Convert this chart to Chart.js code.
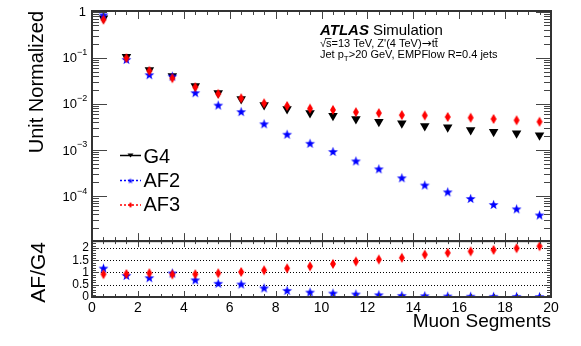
<!DOCTYPE html>
<html>
<head>
<meta charset="utf-8">
<script src="https://cdn.jsdelivr.net/npm/chart.js@4.4.0/dist/chart.umd.min.js"></script>
<style>
html, body { margin: 0; padding: 0; background: #fff; }
#wrap { width: 581px; height: 346px; }
</style>
</head>
<body>
<div id="wrap"><canvas id="chart" width="581" height="346"></canvas></div>
<script>
// bin centres (muon segments)
const binCenters = [0.5, 1.5, 2.5, 3.5, 4.5, 5.5, 6.5, 7.5, 8.5, 9.5, 10.5, 11.5, 12.5, 13.5, 14.5, 15.5, 16.5, 17.5, 18.5, 19.5];

// unit normalized distributions
const g4Values  = [0.72, 0.105, 0.0545, 0.0404, 0.0245, 0.0171, 0.0128, 0.0094, 0.0077, 0.0063, 0.0055, 0.0047, 0.0041, 0.0038, 0.0033, 0.0031, 0.0027, 0.0025, 0.0023, 0.0021];
const af2Values = [0.85, 0.092, 0.043, 0.040, 0.0175, 0.0094, 0.0068, 0.0037, 0.0022, 0.0014, 0.00093, 0.00058, 0.00039, 0.00025, 0.000174, 0.000124, 0.000089, 0.000066, 0.000053, 0.000039];
const af3Values = [0.67, 0.098, 0.052, 0.036, 0.023, 0.0165, 0.0132, 0.0103, 0.0090, 0.0079, 0.0074, 0.0066, 0.0063, 0.0057, 0.0056, 0.0052, 0.0050, 0.0047, 0.0044, 0.0041];

// ratio panel AF/G4
const af2Ratio = [1.18, 0.88, 0.79, 0.98, 0.70, 0.56, 0.53, 0.37, 0.27, 0.20, 0.16, 0.12, 0.09, 0.066, 0.052, 0.04, 0.033, 0.027, 0.023, 0.019];
const af3Ratio = [0.93, 0.94, 0.97, 0.92, 0.93, 0.97, 1.02, 1.09, 1.17, 1.25, 1.35, 1.45, 1.53, 1.60, 1.73, 1.80, 1.86, 1.92, 1.99, 2.07];

// ticks
const xTickLabels = [0, 2, 4, 6, 8, 10, 12, 14, 16, 18, 20];
const logTickExponents = [0, -1, -2, -3, -4];
const ratioTickLabels = ['0', '0.5', '1', '1.5', '2'];
const ratioGridLines = [0.5, 1, 1.5, 2];

const FONT = '"Liberation Sans", Arial, Helvetica, sans-serif';
const frameColor = '#444';

function makeStar(color, rOut, rIn) {
  const size = Math.ceil(rOut * 2) + 2;
  const c = document.createElement('canvas');
  c.width = size; c.height = size;
  const g = c.getContext('2d');
  g.fillStyle = color;
  g.beginPath();
  for (let i = 0; i < 10; i++) {
    const rr = i % 2 ? rIn : rOut;
    const a = -Math.PI / 2 + i * Math.PI / 5;
    const px = size / 2 + rr * Math.cos(a), py = size / 2 + rr * Math.sin(a) + 0.5;
    if (i === 0) g.moveTo(px, py); else g.lineTo(px, py);
  }
  g.closePath();
  g.fill();
  return c;
}

function makeDiamond(color, w, h) {
  const c = document.createElement('canvas');
  c.width = w + 2; c.height = h + 2;
  const g = c.getContext('2d');
  g.fillStyle = color;
  const cx = c.width / 2, cy = c.height / 2;
  g.beginPath();
  g.moveTo(cx, cy - h / 2); g.lineTo(cx + w / 2, cy); g.lineTo(cx, cy + h / 2); g.lineTo(cx - w / 2, cy);
  g.closePath();
  g.fill();
  return c;
}

const blueStar = makeStar('#0000ff', 5.2, 2.1);
const redDiamond = makeDiamond('#ff0000', 6, 10);
const smallStar = makeStar('#0000ff', 3, 1.2);
const smallDiamond = makeDiamond('#ff0000', 4, 6);

const pts = vals => binCenters.map((x, i) => ({ x: x, y: vals[i] }));

// frame, inward ticks, labels and legend in ROOT style
const rootStyle = {
  id: 'rootStyle',
  beforeDatasetsDraw(chart) {
    const { ctx, scales: { x, yRatio } } = chart;
    ctx.save();
    ctx.strokeStyle = '#000';
    ctx.lineWidth = 1;
    ctx.setLineDash([1, 2]);
    ratioGridLines.forEach(v => {
      const py = Math.round(yRatio.getPixelForValue(v)) + 0.5;
      ctx.beginPath(); ctx.moveTo(x.left, py); ctx.lineTo(x.right, py); ctx.stroke();
    });
    ctx.restore();
  },
  afterDatasetsDraw(chart) {
    const { ctx, scales: { x, y, yRatio: r } } = chart;
    ctx.save();
    ctx.strokeStyle = frameColor;
    ctx.lineWidth = 1;
    const hLine = (x0, x1, yy) => { ctx.beginPath(); ctx.moveTo(x0, yy); ctx.lineTo(x1, yy); ctx.stroke(); };
    const vLine = (xx, y0, y1) => { ctx.beginPath(); ctx.moveTo(xx, y0); ctx.lineTo(xx, y1); ctx.stroke(); };

    // x ticks on both panels
    for (let v = 0; v <= 20; v += 0.5) {
      const px = Math.round(x.getPixelForValue(v)) + 0.5;
      const major = v % 2 === 0;
      const lt = major ? 8 : 4;
      vLine(px, y.top, y.top + lt);
      vLine(px, y.bottom, y.bottom - lt);
      const lr = major ? 6 : 3;
      vLine(px, r.top, r.top + lr);
      vLine(px, r.bottom, r.bottom - lr);
    }
    // log y ticks
    for (let e = -5; e <= 0; e++) {
      for (let m = 1; m <= 9; m++) {
        const v = m * Math.pow(10, e);
        if (v < y.min || v > y.max) continue;
        const py = Math.round(y.getPixelForValue(v)) + 0.5;
        const lt = m === 1 ? 15 : 7;
        hLine(x.left, x.left + lt, py);
        hLine(x.right, x.right - lt, py);
      }
    }
    // ratio y ticks
    for (let i = 0; i <= 22; i++) {
      const v = i / 10;
      const py = Math.round(r.getPixelForValue(v)) + 0.5;
      const lt = i % 5 === 0 ? 7 : 4;
      hLine(x.left, x.left + lt, py);
      hLine(x.right, x.right - lt, py);
    }
    // frames
    ctx.strokeStyle = '#333';
    ctx.lineWidth = 2;
    ctx.strokeRect(x.left, y.top, x.right - x.left, y.bottom - y.top);
    ctx.strokeRect(x.left, r.top, x.right - x.left, r.bottom - r.top);

    // tick labels
    ctx.fillStyle = '#000';
    ctx.font = '14px ' + FONT;
    ctx.textAlign = 'center';
    ctx.textBaseline = 'top';
    xTickLabels.forEach(v => ctx.fillText(String(v), x.getPixelForValue(v), r.bottom + 4));

    ctx.font = '12px ' + FONT;
    ctx.textAlign = 'right';
    ctx.textBaseline = 'middle';
    ratioTickLabels.forEach(t => ctx.fillText(t, x.left - 3, r.getPixelForValue(parseFloat(t))));

    logTickExponents.forEach(e => {
      const py = y.getPixelForValue(Math.pow(10, e));
      ctx.textBaseline = 'middle';
      ctx.textAlign = 'right';
      if (e === 0) {
        ctx.font = '13px ' + FONT;
        ctx.fillText('1', x.left - 6, py + 1);
      } else {
        ctx.font = '13px ' + FONT;
        ctx.fillText('10', x.left - 15, py + 1);
        ctx.font = '9px ' + FONT;
        ctx.textAlign = 'left';
        ctx.fillText('\u2212' + (-e), x.left - 15, py - 5);
      }
    });

    // axis titles
    ctx.font = '20px ' + FONT;
    ctx.textAlign = 'right';
    ctx.textBaseline = 'middle';
    ctx.save();
    ctx.translate(37, 11); ctx.rotate(-Math.PI / 2);
    ctx.fillText('Unit Normalized', 0, 0);
    ctx.restore();
    ctx.save();
    ctx.translate(39, 242); ctx.rotate(-Math.PI / 2);
    ctx.font = '21px ' + FONT;
    ctx.fillText('AF/G4', 0, 0);
    ctx.restore();
    ctx.font = '19px ' + FONT;
    ctx.textBaseline = 'alphabetic';
    ctx.fillText('Muon Segments', x.right, 327);

    // ATLAS label
    ctx.textAlign = 'left';
    ctx.font = 'italic bold 15px ' + FONT;
    ctx.fillText('ATLAS', 320, 35);
    const wAtlas = ctx.measureText('ATLAS').width;
    ctx.font = '15px ' + FONT;
    ctx.fillText('Simulation', 320 + wAtlas + 4, 35);

    ctx.font = '11px ' + FONT;
    const part1 = '\u221As=13 TeV, Z\'(4 TeV)';
    ctx.fillText(part1, 320, 47);
    ctx.lineWidth = 0.8;
    ctx.strokeStyle = '#000';
    const wRoot = ctx.measureText('\u221A').width;
    const wS = ctx.measureText('s').width;
    hLine(320 + wRoot - 1, 320 + wRoot + wS, 38.5);
    let ax = 320 + ctx.measureText(part1).width;
    ctx.font = '12px "DejaVu Sans", sans-serif';
    ctx.fillText('\u2192', ax, 47);
    ax += ctx.measureText('\u2192').width;
    ctx.font = '11px ' + FONT;
    ctx.fillText('tt', ax, 47);
    const wT = ctx.measureText('t').width;
    hLine(ax + wT, ax + 2 * wT, 38.5);

    let tx = 320;
    ctx.fillText('Jet p', tx, 57.5);
    tx += ctx.measureText('Jet p').width;
    ctx.font = '8px ' + FONT;
    ctx.fillText('T', tx, 60.5);
    tx += ctx.measureText('T').width;
    ctx.font = '11px ' + FONT;
    ctx.fillText('>20 GeV, EMPFlow R=0.4 jets', tx, 57.5);

    // legend
    const legend = [
      { label: 'G4', color: '#000', dash: [], ly: 155.5, ty: 162.5, marker: 'tri' },
      { label: 'AF2', color: '#0000ff', dash: [2, 2], ly: 180.5, ty: 186.5, marker: smallStar },
      { label: 'AF3', color: '#ff0000', dash: [2, 2], ly: 205, ty: 211, marker: smallDiamond }
    ];
    legend.forEach(item => {
      ctx.strokeStyle = item.color;
      ctx.lineWidth = 1.5;
      ctx.setLineDash(item.dash);
      hLine(120, 141, item.ly);
      ctx.setLineDash([]);
      ctx.fillStyle = item.color;
      if (item.marker === 'tri') {
        ctx.beginPath();
        ctx.moveTo(127.5, item.ly - 2); ctx.lineTo(133.5, item.ly - 2); ctx.lineTo(130.5, item.ly + 2);
        ctx.closePath(); ctx.fill();
      } else {
        ctx.drawImage(item.marker, 130.5 - item.marker.width / 2, item.ly - item.marker.height / 2);
      }
      ctx.fillStyle = '#000';
      ctx.font = '20px ' + FONT;
      ctx.textAlign = 'left';
      ctx.textBaseline = 'alphabetic';
      ctx.fillText(item.label, 143.5, item.ty);
    });
    ctx.restore();
  }
};

new Chart(document.getElementById('chart').getContext('2d'), {
  type: 'scatter',
  data: {
    datasets: [
      { label: 'G4', data: pts(g4Values), yAxisID: 'y', order: 3,
        pointStyle: 'triangle', rotation: 180, pointRadius: 5.5, borderWidth: 0,
        backgroundColor: '#000', borderColor: '#000' },
      { label: 'AF2', data: pts(af2Values), yAxisID: 'y', order: 2,
        pointStyle: blueStar, pointRadius: 5, backgroundColor: '#0000ff', borderColor: '#0000ff' },
      { label: 'AF3', data: pts(af3Values), yAxisID: 'y', order: 1,
        pointStyle: redDiamond, pointRadius: 5, backgroundColor: '#ff0000', borderColor: '#ff0000' },
      { label: 'AF2/G4', data: pts(af2Ratio), yAxisID: 'yRatio', order: 2,
        pointStyle: blueStar, pointRadius: 5, backgroundColor: '#0000ff', borderColor: '#0000ff' },
      { label: 'AF3/G4', data: pts(af3Ratio), yAxisID: 'yRatio', order: 1,
        pointStyle: redDiamond, pointRadius: 5, backgroundColor: '#ff0000', borderColor: '#ff0000' }
    ]
  },
  options: {
    responsive: false,
    animation: false,
    devicePixelRatio: 1,
    layout: { padding: { left: 0, right: 30, top: 11, bottom: 0 } },
    plugins: { legend: { display: false }, tooltip: { enabled: false } },
    scales: {
      x: {
        type: 'linear', min: 0, max: 20, position: 'bottom',
        grid: { display: false }, border: { display: false }, ticks: { display: false },
        afterFit(s) { s.height = 49; }
      },
      yRatio: {
        type: 'linear', position: 'left', stack: 'panels', stackWeight: 56, min: 0, max: 2.28,
        grid: { display: false }, border: { display: false }, ticks: { display: false },
        afterFit(s) { s.width = 92; }
      },
      y: {
        type: 'logarithmic', position: 'left', stack: 'panels', stackWeight: 230.5, min: 1.06e-5, max: 1.03,
        grid: { display: false }, border: { display: false }, ticks: { display: false },
        afterFit(s) { s.width = 92; }
      }
    }
  },
  plugins: [rootStyle]
});
</script>
</body>
</html>
